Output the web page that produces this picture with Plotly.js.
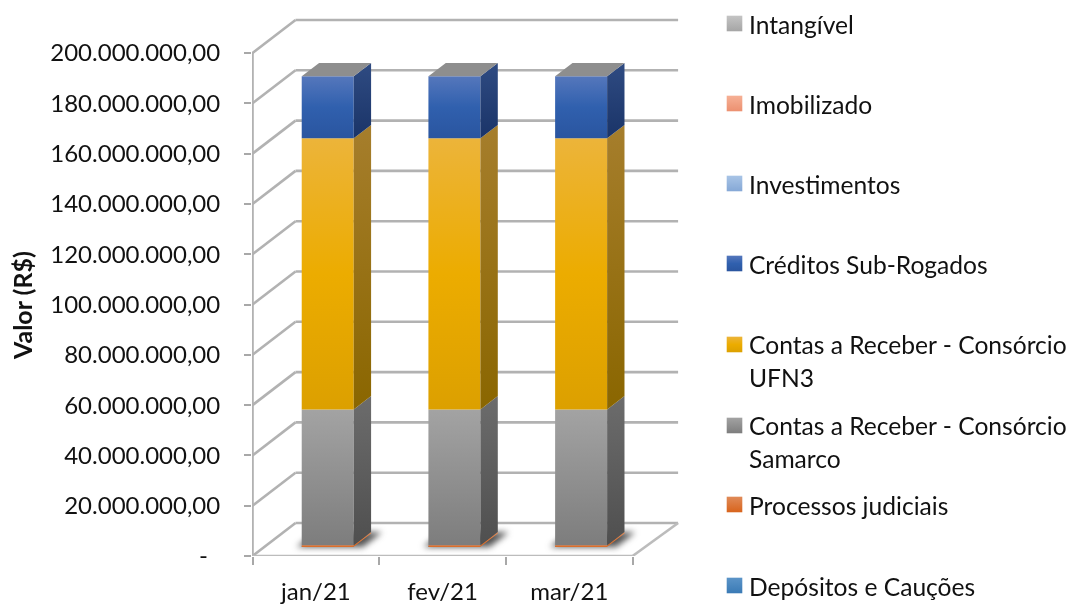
<!DOCTYPE html>
<html><head><meta charset="utf-8">
<script src="https://cdn.plot.ly/plotly-3.0.1.min.js"></script>
<style>html,body{margin:0;padding:0;background:#fff}#chart{width:1069px;height:604px;filter:blur(0.4px)}</style>
</head><body><div id="chart"></div>
<script>
// ---------- data (R$) ----------
const categories = ['jan/21','fev/21','mar/21'];
const depositos  = [50000, 50000, 50000];
const processos  = [600000, 600000, 600000];
const samarco    = [54000000, 54000000, 54000000];
const ufn3       = [107800000, 107800000, 107800000];
const creditos   = [24700000, 24700000, 24700000];
const investimentos = [0, 0, 0];
const imobilizado   = [0, 0, 0];
const intangivel    = [0, 0, 0];
const yTicks = [0,20e6,40e6,60e6,80e6,100e6,120e6,140e6,160e6,180e6,200e6];
const yLabels = ['-\u00A0\u00A0','20.000.000,00','40.000.000,00','60.000.000,00','80.000.000,00','100.000.000,00','120.000.000,00','140.000.000,00','160.000.000,00','180.000.000,00','200.000.000,00'];

// ---------- geometry of the 3-D projection ----------
const pxX = 126.7, pxY = 2.515e-6;        // pixels per category, pixels per R$
const DX = 43/pxX, DY = 33/pxY;           // full floor depth in axis units
const DXR = 45.5/pxX;                     // right-hand edge of the floor runs slightly wider
const D0 = 0.276, D1 = 0.68;              // front and back planes of the columns
const BAR_W = 52/pxX;
const FONT = 'Lato, sans-serif';
const project = (x, v, d) => [x + d*DX, v + d*DY];

const stack = [
 {name:'Depósitos e Cauções', v:depositos, front:['#5b94c8','#3a7ab5'], side:['#2e5f8c','#2a5680'], ly:564},
 {name:'Processos judiciais', v:processos, front:['#e08a58','#d8641c'], side:['#e08a58','#d8641c'], ly:483},
 {name:'Contas a Receber - Consórcio<br>Samarco', v:samarco, front:['#a3a3a3','#7d7d7d'], side:['#6c6c6c','#4f4f4f'], ly:403},
 {name:'Contas a Receber - Consórcio<br>UFN3', v:ufn3, front:['#ecb43a','#ecac00','#dca000'], side:['#a67e2c','#8a6600'], ly:322},
 {name:'Créditos Sub-Rogados', v:creditos, front:['#5577bc','#3060ae','#2a559f'], side:['#2f4b82','#1a3468'], ly:242},
 {name:'Investimentos', v:investimentos, front:['#a8c4e6','#85a8d6'], side:['#85a8d6','#85a8d6'], ly:162},
 {name:'Imobilizado', v:imobilizado, front:['#f6b095','#ec9070'], side:['#ec9070','#ec9070'], ly:82},
 {name:'Intangível', v:intangivel, front:['#c4c4c4','#a5a5a5'], side:['#8c8c8c','#8c8c8c'], ly:2}
];

const traces = [], layout = {
  width:1069, height:604,
  margin:{l:252,r:389,t:18,b:48,autoexpand:false},
  paper_bgcolor:'#fff', plot_bgcolor:'#fff',
  barmode:'overlay', hovermode:false, showlegend:true,
  font:{family:FONT,color:'#111',size:24},
  xaxis:{range:[-0.5/pxX,427.5/pxX],tickvals:categories.map((c,i)=>i+0.5),ticktext:categories,ticks:'',
         showgrid:false,zeroline:false,showline:false,tickfont:{family:FONT,size:24,color:'#111'},
         ticklabelstandoff:19,
         minor:{tickvals:[0,1,2,3],ticks:'outside',ticklen:8,tickwidth:1.5,tickcolor:'#a8a8a8',showgrid:false}},
  yaxis:{range:[0,538/pxY],tickvals:yTicks,ticktext:yLabels,ticks:'outside',ticklen:7,tickwidth:1.5,tickcolor:'#a8a8a8',
         showgrid:false,zeroline:false,showline:false,tickfont:{family:FONT,size:24,color:'#111'},ticklabelstandoff:19},
  annotations:[{text:'<b>Valor (R$)</b>',xref:'paper',yref:'paper',x:-230/428,y:(556-306)/538,
                showarrow:false,textangle:-90,font:{family:FONT,size:25,color:'#111'},xanchor:'center',yanchor:'middle'}],
  shapes:[]
};

// walls, floor and axis lines, built from the axis ticks
const line = (x0,y0,x1,y1,color,w)=>({type:'line',layer:'below',xref:'x',yref:'y',x0,y0,x1,y1,line:{color:color||'#b2b2b2',width:w||2.6}});
const xEnd = categories.length;
yTicks.forEach(t=>{
  const back0 = project(0,t,1);
  layout.shapes.push(line(0,t,back0[0],back0[1]));
  layout.shapes.push(line(back0[0],back0[1],xEnd+DXR,back0[1]));
});
layout.shapes.push(line(0,0,0,yTicks[yTicks.length-1]));
layout.shapes.push(line(0,0,xEnd,0,'#bcbcbc'));
layout.shapes.push(line(xEnd,0,xEnd+DXR,project(0,0,1)[1],'#bcbcbc'));

// footprint shadows
categories.forEach((c,i)=>{
  const cx=i+0.5, l=cx-BAR_W/2-5/pxX, r=cx+BAR_W/2+9/pxX;
  const p=[project(l,0,D0),project(r,0,D0),project(r,0,D1+0.04),project(l,0,D1+0.04)];
  layout.shapes.push({type:'path',layer:'below',xref:'x',yref:'y',
    path:'M'+p.map(q=>q[0]+','+q[1]).join(' L')+' Z',fillcolor:'rgba(50,50,50,0.85)',line:{width:0},name:'shadow'});
});

// front faces: real bars, based on the cumulative sum
const cum = categories.map(()=>0);
stack.forEach((s,k)=>{
  const base = cum.map(c=>project(0,c,D0)[1]);
  traces.push({type:'bar',name:s.name,legend:k===stack.length-1?'legend':'legend'+(stack.length-k),
    x:categories.map((c,i)=>project(i+0.5,0,D0)[0]),y:s.v,base:base,width:BAR_W,
    marker:{color:s.front[s.front.length-1],line:{width:0}},showlegend:true});
  // side face of the same series
  const sx=[],sy=[];
  categories.forEach((c,i)=>{
    const r=i+0.5+BAR_W/2, a=cum[i], b=cum[i]+s.v[i];
    if(s.v[i]<=0) return;
    [[r,a,D0],[r,b,D0],[r,b,D1],[r,a,D1],[r,a,D0]].forEach(q=>{const p=project(q[0],q[1],q[2]);sx.push(p[0]);sy.push(p[1]);});
    sx.push(null);sy.push(null);
  });
  if(sx.length) traces.push({type:'scatter',mode:'lines',x:sx,y:sy,fill:'toself',fillcolor:s.side[1],line:{width:0},showlegend:false,meta:'side'+k});
  s.v.forEach((v,i)=>cum[i]+=v);
  layout['legend'+(k===stack.length-1?'':(stack.length-k))]={
    xref:'container',yref:'container',x:709/1069,y:1-s.ly/604,xanchor:'left',yanchor:'top',
    bgcolor:'rgba(0,0,0,0)',borderwidth:0,font:{family:FONT,size:24.6,color:'#111'},itemclick:false,itemdoubleclick:false};
});

// column caps
const tx=[],ty=[];
categories.forEach((c,i)=>{
  const l=i+0.5-BAR_W/2,r=i+0.5+BAR_W/2,t=cum[i];
  [[l,D0],[r,D0],[r,D1],[l,D1],[l,D0]].forEach(q=>{const p=project(q[0],t,q[1]);tx.push(p[0]);ty.push(p[1]);});
  tx.push(null);ty.push(null);
});
traces.push({type:'scatter',mode:'lines',x:tx,y:ty,fill:'toself',fillcolor:'#8e8e8e',line:{width:0},showlegend:false});

const gd=document.getElementById('chart');
Plotly.newPlot(gd,traces,layout,{displayModeBar:false}).then(()=>{
  const svg=gd.querySelector('svg.main-svg');
  const NS='http://www.w3.org/2000/svg';
  const defs=document.createElementNS(NS,'defs');svg.insertBefore(defs,svg.firstChild);
  let n=0;
  const grad=(cols)=>{
    const g=document.createElementNS(NS,'linearGradient');const id='grad'+(n++);
    g.setAttribute('id',id);g.setAttribute('x1','0');g.setAttribute('y1','0');g.setAttribute('x2','0');g.setAttribute('y2','1');
    cols.forEach((c,i)=>{const st=document.createElementNS(NS,'stop');st.setAttribute('offset',i/(cols.length-1));st.setAttribute('stop-color',c);g.appendChild(st);});
    defs.appendChild(g);return 'url(#'+id+')';
  };
  const byName={};stack.forEach((s,k)=>byName[s.name]={s,k});
  gd.querySelectorAll('.barlayer .trace').forEach(el=>{
    const t=el.__data__[0].trace, e=byName[t.name]; if(!e) return;
    const f=grad(e.s.front); el.querySelectorAll('path').forEach(p=>p.style.fill=f);
  });
  gd.querySelectorAll('.scatterlayer .trace').forEach(el=>{
    const t=el.__data__[0].trace; if(!t.meta) return;
    const k=+t.meta.slice(4); const f=grad(stack[k].side);
    el.querySelectorAll('.js-fill').forEach(p=>p.style.fill=f);
  });
  gd.querySelectorAll('.shapelayer path').forEach(p=>{
    if((p.getAttribute('style')||'').indexOf('fill: rgb(50')>=0) {p.style.filter='blur(3px)';}
  });
  // legend swatches
  gd.querySelectorAll('g.traces').forEach(el=>{
    const t=el.__data__[0].trace, e=byName[t.name]; if(!e) return;
    const two=t.name.indexOf('<br>')>=0;
    const lines=el.querySelectorAll('text tspan.line');
    if(two&&lines[1]) lines[1].setAttribute('dy','33px');
    const f=grad(e.s.front);
    el.querySelectorAll('.legendpoints path').forEach(p=>{
      p.style.fill=f;p.style.stroke='none';
      p.setAttribute('transform','translate(25.5,'+(two?-16:-1)+') scale(1.3)');
    });
  });
});
</script></body></html>
